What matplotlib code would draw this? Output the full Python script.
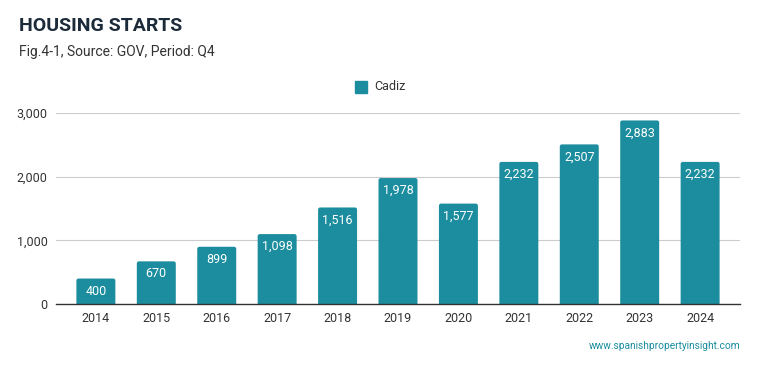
import matplotlib.pyplot as plt
from matplotlib.patches import FancyBboxPatch

plt.rcParams['font.family'] = ['Roboto', 'DejaVu Sans']

# data
years = ['2014', '2015', '2016', '2017', '2018', '2019', '2020', '2021', '2022', '2023', '2024']
starts = [400, 670, 899, 1098, 1516, 1978, 1577, 2232, 2507, 2883, 2232]
series_name = 'Cadiz'

BAR_COLOR = '#1c8d9e'
TEXT_COLOR = '#333333'
BAR_W = 0.645

fig = plt.figure(figsize=(7.59, 3.71), dpi=100)
ax = fig.add_axes([56 / 759, 1 - 304 / 371, (740 - 56) / 759, (304 - 113) / 371])

ax.set_xlim(-0.66, len(years) - 1 + 0.66)
ax.set_ylim(0, 3000)

# bars with slightly rounded tops (bottom part is hidden below the axis)
x = list(range(len(years)))
aspect = (3000 / 191) / ((len(years) - 1 + 1.32) / 684)
for xi, val in zip(x, starts):
    box = FancyBboxPatch((xi - BAR_W / 2, -60), BAR_W, val + 60,
                         boxstyle='round,pad=0,rounding_size=0.035',
                         mutation_aspect=aspect, facecolor=BAR_COLOR,
                         edgecolor='none', zorder=3)
    ax.add_patch(box)
    ax.annotate(f'{val:,}', (xi, val), xytext=(0, -9), textcoords='offset points',
                ha='center', va='center', color='white', fontsize=9, zorder=4)

ax.set_yticks([0, 1000, 2000, 3000])
ax.set_yticklabels(['0', '1,000', '2,000', '3,000'])
ax.set_xticks(x)
ax.set_xticklabels(years)
ax.tick_params(axis='both', length=0, labelsize=9, colors=TEXT_COLOR)
ax.tick_params(axis='y', pad=6)
ax.tick_params(axis='x', pad=6)
ax.grid(axis='y', color='#cccccc', linewidth=0.8, zorder=0)
for side in ['top', 'right', 'left']:
    ax.spines[side].set_visible(False)
ax.spines['bottom'].set_color('#333333')
ax.spines['bottom'].set_linewidth(1.0)
ax.spines['bottom'].set_zorder(5)

# legend
fig.patches.append(plt.Rectangle((355 / 759, 1 - 93 / 371), 12 / 759, 12 / 371,
                                 transform=fig.transFigure, color=BAR_COLOR))
fig.text(374 / 759, 1 - 87 / 371, series_name, fontsize=9, color=TEXT_COLOR, va='center')

fig.text(19 / 759, 1 - 26 / 371, 'HOUSING STARTS', fontsize=14, fontweight='bold',
         color='#1c2b3a', va='center')
fig.text(19 / 759, 1 - 52 / 371, 'Fig.4-1, Source: GOV, Period: Q4', fontsize=10,
         color=TEXT_COLOR, va='center')
fig.text(740 / 759, 1 - 346 / 371, 'www.spanishpropertyinsight.com', fontsize=7.3,
         color='#1c8d9e', ha='right', va='center')

fig.savefig('out.png', dpi=100)
